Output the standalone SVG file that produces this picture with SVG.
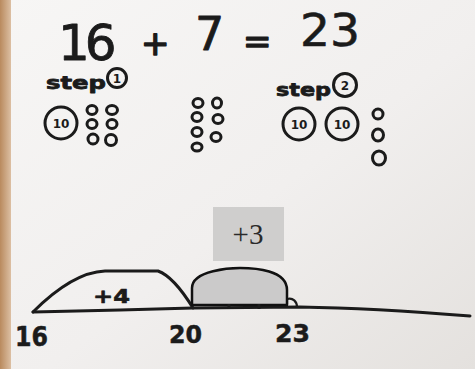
<svg xmlns="http://www.w3.org/2000/svg" width="475" height="369" viewBox="0 0 475 369">
<defs>
<linearGradient id="paper" x1="0" y1="0" x2="1" y2="1">
<stop offset="0" stop-color="#f7f6f5"/>
<stop offset="0.55" stop-color="#f1efee"/>
<stop offset="1" stop-color="#e4e1de"/>
</linearGradient>
<linearGradient id="edge" x1="0" y1="0" x2="1" y2="0">
<stop offset="0" stop-color="#b98a5e"/>
<stop offset="1" stop-color="#dcbfa3"/>
</linearGradient>
</defs>
<style>
.hw{font-family:"DejaVu Sans","Liberation Sans",sans-serif;fill:#1b1b1b;stroke:#1b1b1b;stroke-linejoin:round}
.ink{fill:none;stroke:#1b1b1b;stroke-width:3;stroke-linecap:round;stroke-linejoin:round}
.dot{fill:none;stroke:#1b1b1b;stroke-width:3}
.ten{fill:none;stroke:#1b1b1b;stroke-width:3}
.tenT{font-family:"DejaVu Sans","Liberation Sans",sans-serif;font-size:12px;font-weight:bold;fill:#1b1b1b;text-anchor:middle}
</style>
<rect width="475" height="369" fill="url(#paper)"/>
<rect x="0" y="0" width="11" height="369" fill="url(#edge)"/>

<g id="equation">
<text class="hw" x="58" y="60" font-size="50" stroke-width="0.8" letter-spacing="-5" font-family="Liberation Sans,sans-serif">16</text>
<text class="hw" x="141" y="55" font-size="34" stroke-width="1.5">+</text>
<text class="hw" x="195" y="50" font-size="46" stroke-width="0.8">7</text>
<text class="hw" x="243" y="53" font-size="34" stroke-width="1.5">=</text>
<text class="hw" x="300" y="46" font-size="44" stroke-width="0.6" textLength="60" lengthAdjust="spacingAndGlyphs">23</text>
</g>

<g id="step1">
<text class="hw" x="46" y="89" font-size="18" font-weight="bold" stroke-width="0.8" textLength="60" lengthAdjust="spacingAndGlyphs">step</text>
<circle cx="117" cy="78" r="9.5" class="ten"/>
<text class="tenT" x="117" y="83" font-size="13">1</text>
<circle cx="61" cy="123" r="16" class="ten"/>
<text class="tenT" x="61" y="127.5">10</text>
<g id="step1-ones">
<ellipse cx="92" cy="110" rx="5" ry="4.5" class="dot"/>
<ellipse cx="112" cy="110" rx="5.5" ry="4.5" class="dot"/>
<ellipse cx="92" cy="124" rx="5" ry="4.5" class="dot"/>
<ellipse cx="112" cy="124" rx="5" ry="4.5" class="dot"/>
<ellipse cx="93" cy="139" rx="5" ry="5" class="dot"/>
<ellipse cx="111" cy="140" rx="5.5" ry="5.5" class="dot"/>
</g>
</g>

<g id="seven-ones">
<ellipse cx="198" cy="103" rx="5" ry="4.5" class="dot"/>
<ellipse cx="217" cy="103" rx="4.5" ry="5" class="dot"/>
<ellipse cx="197" cy="117" rx="5" ry="4.5" class="dot"/>
<ellipse cx="218" cy="119" rx="5" ry="4.5" class="dot"/>
<ellipse cx="197" cy="132" rx="5" ry="4.5" class="dot"/>
<ellipse cx="216" cy="137" rx="5" ry="4.5" class="dot"/>
<ellipse cx="197" cy="147" rx="5" ry="4" class="dot"/>
</g>

<g id="step2">
<text class="hw" x="276" y="96" font-size="18" font-weight="bold" stroke-width="0.8" textLength="55" lengthAdjust="spacingAndGlyphs">step</text>
<circle cx="345" cy="85" r="11.5" class="ten"/>
<text class="tenT" x="345" y="90" font-size="13">2</text>
<circle cx="299" cy="124" r="16" class="ten"/>
<text class="tenT" x="299" y="128.5">10</text>
<circle cx="342" cy="124" r="16" class="ten"/>
<text class="tenT" x="342" y="128.5">10</text>
<ellipse cx="378" cy="114" rx="5" ry="5" class="dot"/>
<ellipse cx="378" cy="135" rx="5.5" ry="6" class="dot"/>
<ellipse cx="379" cy="158" rx="6.5" ry="7" class="dot"/>
</g>

<g id="plus3-label">
<rect x="213" y="207" width="71" height="54" fill="#cfcecd"/>
<text x="248" y="244" font-family="Liberation Serif,serif" font-size="29" fill="#2a2a2a" text-anchor="middle">+3</text>
</g>

<g id="connectors">
<path class="ink" d="M33 312 L120 310 L193 308 L300 307 C360 308 420 312 470 316"/>
<path class="ink" d="M33 312 C55 290 80 272 105 271 L158 271 C172 276 185 295 193 308"/>
<path d="M287 304 L287 299 C293 297 297 302 297 307" fill="none" stroke="#1b1b1b" stroke-width="2.2"/>
<path d="M192 305 L192 288 C192 270 232 268 240 268 C255 268 287 270 287 290 L287 305 Z" fill="#cbcaca" stroke="#111" stroke-width="2.5" stroke-linejoin="round"/>
<path d="M229 304 L229 309 M259 304 L259 309" stroke="#1b1b1b" stroke-width="3"/>
</g>

<g id="plus4-label">
<text class="hw" x="93" y="303" font-size="19" font-weight="bold" stroke-width="0.6" textLength="37" lengthAdjust="spacingAndGlyphs">+4</text>
</g>

<g id="tick-16"><text class="hw" x="15" y="346" font-size="26" font-weight="bold" stroke-width="0.5" textLength="33" lengthAdjust="spacingAndGlyphs">16</text></g>
<g id="tick-20"><text class="hw" x="169" y="343" font-size="24" font-weight="bold" stroke-width="0.5" textLength="33" lengthAdjust="spacingAndGlyphs">20</text></g>
<g id="tick-23"><text class="hw" x="275" y="342" font-size="24" font-weight="bold" stroke-width="0.5" textLength="35" lengthAdjust="spacingAndGlyphs">23</text></g>
</svg>
